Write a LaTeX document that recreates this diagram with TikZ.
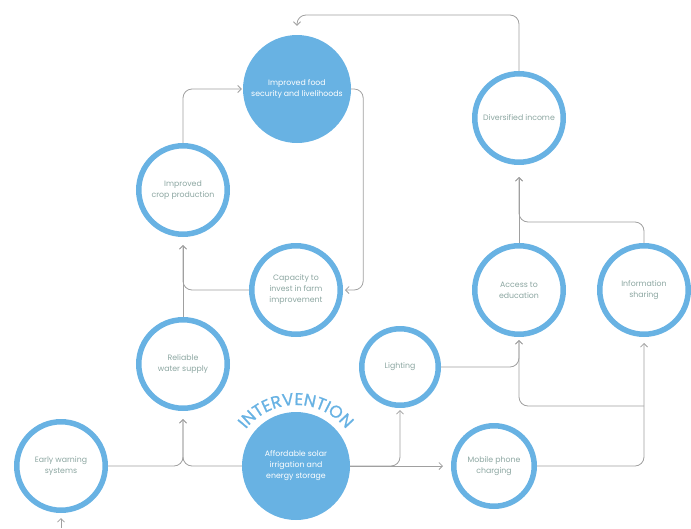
\documentclass[tikz,border=0pt]{standalone}
\usepackage{fontspec}
\setmainfont{Poppins}
\newfontfamily\intfont[FakeBold=1]{Poppins}
\usetikzlibrary{arrows.meta,decorations.text}
\definecolor{cblue}{HTML}{68B2E3}
\definecolor{ctext}{HTML}{8CA6A1}
\definecolor{cline}{HTML}{A0A0A0}
\begin{document}
\begin{tikzpicture}[x=1pt,y=1pt,
  ring/.style={circle,draw=cblue,line width=5.5pt,minimum size=#1,inner sep=0pt,align=center,text=ctext,font=\fontsize{7.8}{11}\selectfont},
  ring/.default=88.5pt,
  disc/.style={circle,fill=cblue,minimum size=108pt,inner sep=0pt,align=center,text=white,font=\fontsize{7.8}{11}\selectfont},
  conn/.style={draw=cline,line width=0.8pt,rounded corners=9pt},
  arr/.style={conn,-{Straight Barb[length=3.5pt,width=7pt,line width=0.8pt]}}
]
\useasboundingbox (0,0) rectangle (691,-528);
\node[disc] (food) at (297,-89) {Improved food\\security and livelihoods};
\node[ring] (crop) at (183,-190) {Improved\\crop production};
\node[ring] (cap) at (296,-290) {Capacity to\\invest in farm\\improvement};
\node[ring] (water) at (183,-364) {Reliable\\water supply};
\node[disc] (int) at (296,-466) {Affordable solar\\irrigation and\\energy storage};
\node[ring] (early) at (61,-466) {Early warning\\systems};
\node[ring=76.5pt] (light) at (400,-367) {Lighting};
\node[ring=80.5pt] (phone) at (494,-466) {Mobile phone\\charging};
\node[ring] (income) at (519,-118) {Diversified income};
\node[ring] (educ) at (519,-290) {Access to\\education};
\node[ring] (info) at (644,-290) {Information\\sharing};
\coordinate (topy) at (0,-15);
\coordinate (ebot) at (61,-528);
\coordinate (j1) at (644,-406);
\coordinate (j2) at (0,-222);
\coordinate (arcc) at (296,-469);
\draw[arr,shorten >=9pt] (income.north) -- (income.north |- topy) -- (food.north |- topy) -- (food.north);
\draw[arr,shorten >=2pt] (food.east) -- ++(12,0) |- (cap.east);
\draw[arr,shorten >=1pt] (crop.north) |- (food.west);
\draw[arr,shorten >=8pt] (water.north) -- (crop.south);
\draw[arr,shorten >=8pt] (cap.west) -| (crop.south);
\draw[arr,shorten >=8pt] (int.west) -| (water.south);
\draw[arr,shorten >=8pt] (early.east) -| (water.south);
\draw[arr,shorten >=5pt] (ebot) -- (early.south);
\draw[arr,shorten >=2pt] (int.east) -| (light.south);
\draw[arr,shorten >=8pt] (int.east) -- (phone.west);
\draw[arr,shorten >=3pt] (light.east) -| (educ.south);
\draw[arr,shorten >=6pt] (phone.east) -| (info.south);
\draw[arr,shorten >=3pt] (j1) -| (educ.south);
\draw[arr,shorten >=12pt] (educ.north) -- (income.south);
\draw[arr,shorten >=12pt] (info.north) -- (info.north |- j2) -- (educ.north |- j2) -- (income.south);
\path[decorate,decoration={text along path,text align=center,
  text={|\intfont\fontsize{17}{17}\selectfont\color{cblue}|INTERVENTION}}]
  ([shift={(152:64)}]arcc) arc[start angle=152,end angle=28,radius=64];
\end{tikzpicture}
\end{document}
